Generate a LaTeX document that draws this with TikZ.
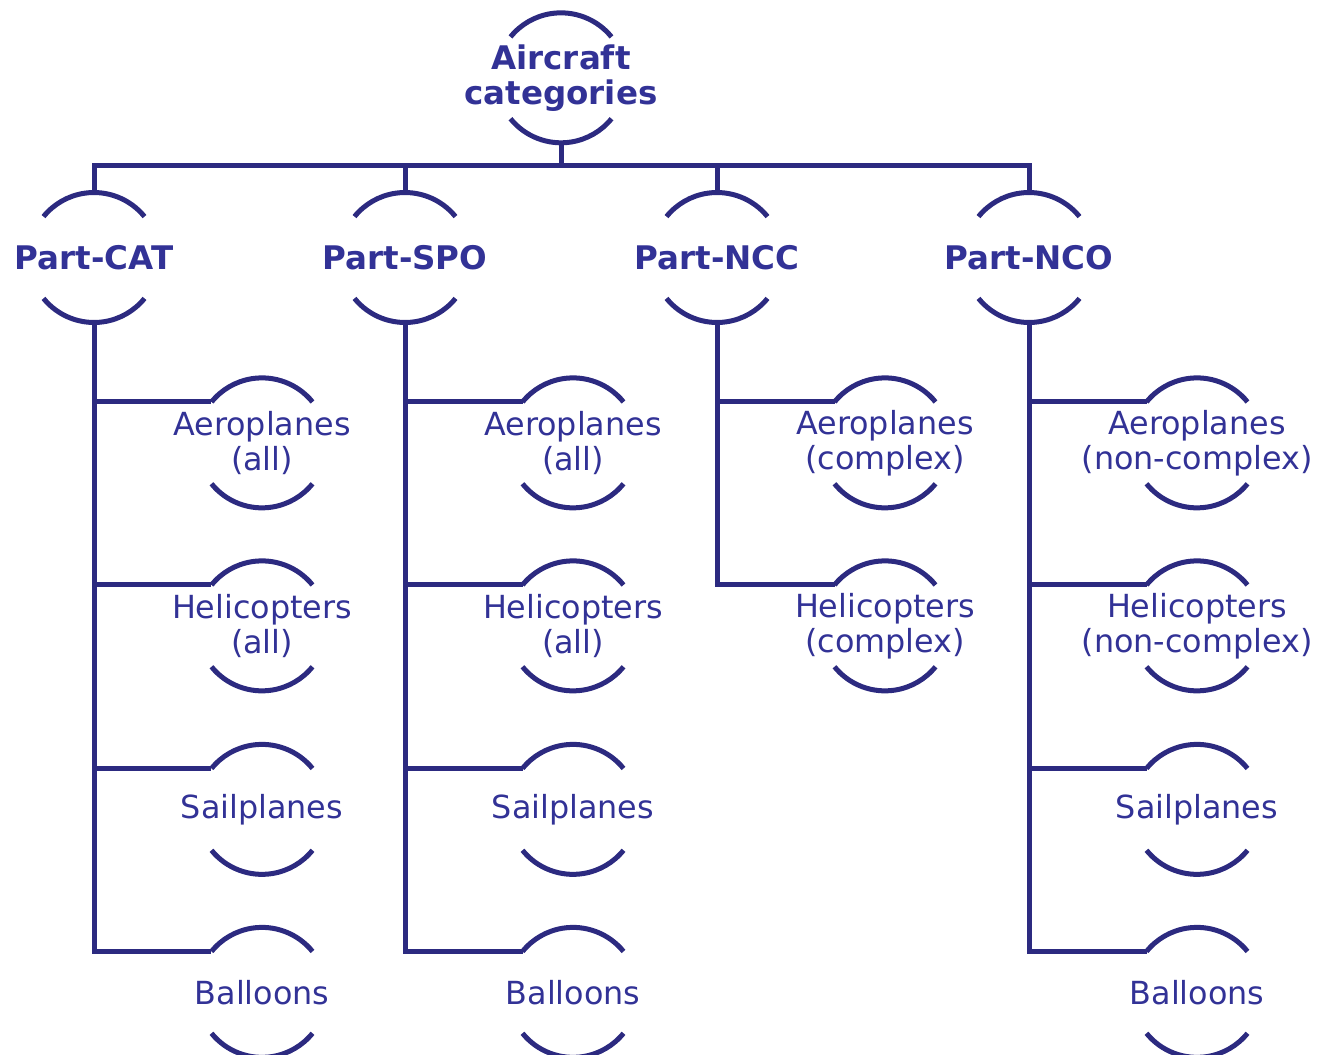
\documentclass[tikz,border=0pt]{standalone}
\usepackage{fontspec}
\setmainfont{DejaVu Sans}
\usetikzlibrary{calc}
\definecolor{linecol}{RGB}{44,42,128}
\definecolor{textcol}{RGB}{50,50,150}
\def\rad{1.3cm}
\def\halfarcs(#1){\draw[arcline] ($(#1.center)+(39:\rad)$) arc (39:141:\rad) coordinate (#1-in);
	\draw[arcline] ($(#1.center)+(219:\rad)$) arc (219:321:\rad);
	\coordinate (#1-top) at ($(#1.center)+(90:\rad)$);
	\coordinate (#1-bot) at ($(#1.center)+(270:\rad)$);}
\tikzset{
	arcline/.style={line width=0.1cm, draw=linecol},
	cat/.style={inner sep=0pt, align=center, text=textcol, font=\fontsize{18.1}{19.9}\selectfont},
	catbold/.style={cat, font=\fontsize{18.5}{19.9}\selectfont\bfseries},
}

\begin{document}
\begin{tikzpicture}[x=0.02cm,y=-0.02cm]
	%%%%% START %%%%%
	\def\xcat{94}
	\def\xspo{405}
	\def\xncc{717}
	\def\xnco{1029}
	\def\dleaf{168}
	\def\ypart{257.5}
	\def\yone{439}
	\def\ytwo{622}
	\def\ythree{805.5}
	\def\yfour{988.5}
	\def\ylift{-2.2pt}
	
	\useasboundingbox (0,0) rectangle (1319,1055);
	
	\node[catbold, yshift=-1.6pt] (root) at (561,75) {Aircraft\\categories};
	\halfarcs(root)
	
	\node[catbold] (cat) at (\xcat,\ypart) {Part-CAT};
	\halfarcs(cat)
	\node[catbold] (spo) at (\xspo,\ypart) {Part-SPO};
	\halfarcs(spo)
	\node[catbold] (ncc) at (\xncc,\ypart) {Part-NCC};
	\halfarcs(ncc)
	\node[catbold] (nco) at (\xnco,\ypart) {Part-NCO};
	\halfarcs(nco)
	
	\coordinate (bus) at (561,165);
	\draw[arcline] (root-bot) -- (bus);
	\draw[arcline] (cat-top) |- (bus) -| (nco-top);
	\draw[arcline] (spo-top) -- (spo-top |- bus);
	\draw[arcline] (ncc-top) -- (ncc-top |- bus);
	
	% Part-CAT
	\node[cat, yshift=\ylift] (cataer) at (\xcat+\dleaf,\yone) {Aeroplanes\\(all)};
	\halfarcs(cataer)
	\node[cat, yshift=\ylift] (cathel) at (\xcat+\dleaf,\ytwo) {Helicopters\\(all)};
	\halfarcs(cathel)
	\node[cat, yshift=\ylift] (catsail) at (\xcat+\dleaf,\ythree) {Sailplanes};
	\halfarcs(catsail)
	\node[cat, yshift=\ylift] (catbal) at (\xcat+\dleaf,\yfour) {Balloons};
	\halfarcs(catbal)
	\draw[arcline] (cat-bot) |- (catbal-in);
	\draw[arcline] (cat-bot |- cataer-in) -- (cataer-in);
	\draw[arcline] (cat-bot |- cathel-in) -- (cathel-in);
	\draw[arcline] (cat-bot |- catsail-in) -- (catsail-in);
	
	% Part-SPO
	\node[cat, yshift=\ylift] (spoaer) at (\xspo+\dleaf,\yone) {Aeroplanes\\(all)};
	\halfarcs(spoaer)
	\node[cat, yshift=\ylift] (spohel) at (\xspo+\dleaf,\ytwo) {Helicopters\\(all)};
	\halfarcs(spohel)
	\node[cat, yshift=\ylift] (sposail) at (\xspo+\dleaf,\ythree) {Sailplanes};
	\halfarcs(sposail)
	\node[cat, yshift=\ylift] (spobal) at (\xspo+\dleaf,\yfour) {Balloons};
	\halfarcs(spobal)
	\draw[arcline] (spo-bot) |- (spobal-in);
	\draw[arcline] (spo-bot |- spoaer-in) -- (spoaer-in);
	\draw[arcline] (spo-bot |- spohel-in) -- (spohel-in);
	\draw[arcline] (spo-bot |- sposail-in) -- (sposail-in);
	
	% Part-NCC
	\node[cat, yshift=\ylift] (nccaer) at (\xncc+\dleaf,\yone) {Aeroplanes\\(complex)};
	\halfarcs(nccaer)
	\node[cat, yshift=\ylift] (ncchel) at (\xncc+\dleaf,\ytwo) {Helicopters\\(complex)};
	\halfarcs(ncchel)
	\draw[arcline] (ncc-bot) |- (ncchel-in);
	\draw[arcline] (ncc-bot |- nccaer-in) -- (nccaer-in);
	
	% Part-NCO
	\node[cat, yshift=\ylift] (ncoaer) at (\xnco+\dleaf,\yone) {Aeroplanes\\(non-complex)};
	\halfarcs(ncoaer)
	\node[cat, yshift=\ylift] (ncohel) at (\xnco+\dleaf,\ytwo) {Helicopters\\(non-complex)};
	\halfarcs(ncohel)
	\node[cat, yshift=\ylift] (ncosail) at (\xnco+\dleaf,\ythree) {Sailplanes};
	\halfarcs(ncosail)
	\node[cat, yshift=\ylift] (ncobal) at (\xnco+\dleaf,\yfour) {Balloons};
	\halfarcs(ncobal)
	\draw[arcline] (nco-bot) |- (ncobal-in);
	\draw[arcline] (nco-bot |- ncoaer-in) -- (ncoaer-in);
	\draw[arcline] (nco-bot |- ncohel-in) -- (ncohel-in);
	\draw[arcline] (nco-bot |- ncosail-in) -- (ncosail-in);
	%%%%% END %%%%%
\end{tikzpicture}
\end{document}
